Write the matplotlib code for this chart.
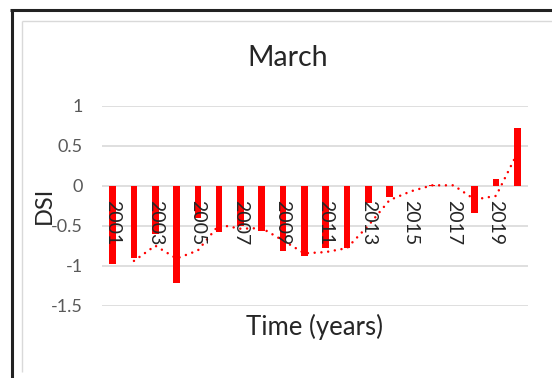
import matplotlib.pyplot as plt
import numpy as np
from matplotlib.lines import Line2D


YEARS = list(range(2001, 2021))

# March drought severity index per year
DSI_MARCH = [
    -0.98, -0.90, -0.60, -1.22, -0.40,
    -0.575, -0.50, -0.56, -0.81, -0.88,
    -0.78, -0.78, -0.22, -0.14, 0.00,
    0.01, 0.00, -0.345, 0.09, 0.725,
]

Y_TICKS = [1, 0.5, 0, -0.5, -1, -1.5]
Y_TICK_LABELS = ["1", "0.5", "0", "-0.5", "-1", "-1.5"]

BAR_COLOR = "#ff0000"
GRID_COLOR = "#d9d9d9"
W, H = 552, 378

plt.rcParams["font.family"] = ["Lato", "DejaVu Sans"]


def moving_average(values, period=2):
    """
    Simple trailing moving average, same as a spreadsheet trendline.
    """
    values = np.asarray(values, dtype=float)
    kernel = np.ones(period) / period
    return np.convolve(values, kernel, mode="valid")


def frame_line(fig, xs, ys, color, lw):
    """
    Draw a line in pixel coordinates of the figure (origin at top left).
    """
    fx = [x / W for x in xs]
    fy = [1 - y / H for y in ys]
    fig.add_artist(Line2D(fx, fy, transform=fig.transFigure, color=color, lw=lw,
                          solid_capstyle="butt"))


fig = plt.figure(figsize=(W / 100, H / 100), dpi=100)
ax = fig.add_axes([102 / W, (H - 305.7) / H, (528 - 102) / W, 200 / H])

x = np.arange(len(YEARS))
ax.bar(x, DSI_MARCH, width=0.31, color=BAR_COLOR, zorder=2)

ma = moving_average(DSI_MARCH, 2)
ax.plot(x[1:], ma, color=BAR_COLOR, lw=1.8, linestyle=(0, (0.01, 2.7)),
        dash_capstyle="round", zorder=3)

ax.set_xlim(-0.5, len(YEARS) - 0.5)
ax.set_ylim(-1.5, 1)

ax.set_yticks(Y_TICKS)
ax.set_yticklabels(Y_TICK_LABELS, fontsize=13, color="#595959")
ax.yaxis.grid(True, color=GRID_COLOR, lw=1.2)
ax.yaxis.set_zorder(0.5)

# year labels sit next to the zero line, reading downwards, over the bars
ax.spines["bottom"].set_position(("data", 0))
ax.set_xticks(x[::2])
ax.set_xticklabels([str(y) for y in YEARS[::2]], rotation=-90, fontsize=14,
                   color="#262626")
ax.xaxis.set_zorder(5)
ax.tick_params(axis="x", length=0, pad=10.5)
ax.tick_params(axis="y", length=0, pad=14)
for side in ["top", "right", "bottom", "left"]:
    ax.spines[side].set_visible(False)

fig.text(288 / W, 1 - 58 / H, "March", fontsize=20.5, color="#262626",
         ha="center", va="center")
fig.text(314 / W, 1 - 327 / H, "Time (years)", fontsize=18.5, color="#262626",
         ha="center", va="center")
fig.text(44 / W, 1 - 205.7 / H, "DSI", fontsize=17, color="#262626",
         rotation=90, ha="center", va="center")

# outer border of the sheet and the chart area box
frame_line(fig, [11.5, 11.5], [378, 10], "#222222", 2.2)
frame_line(fig, [10, 552], [10, 10], "#222222", 2.2)
frame_line(fig, [22, 22], [372, 21], GRID_COLOR, 1.0)
frame_line(fig, [22, 552], [21, 21], GRID_COLOR, 1.0)

fig.savefig("out.png", dpi=100)
